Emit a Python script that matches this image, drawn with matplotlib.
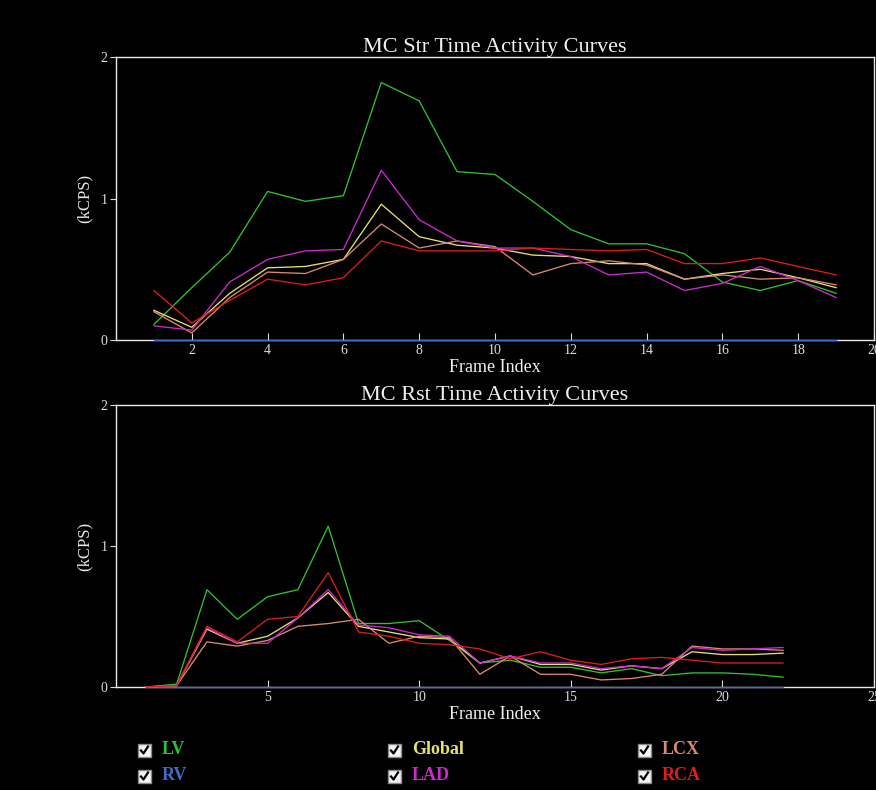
import matplotlib
matplotlib.use("Agg")
import matplotlib.pyplot as plt
from matplotlib.patches import Rectangle
from matplotlib.lines import Line2D

# ---------------- data ----------------
str_frames = list(range(1, 20))
str_LV = [0.11, 0.37, 0.62, 1.05, 0.98, 1.02, 1.82, 1.69, 1.19, 1.17, 0.98, 0.78, 0.68, 0.68, 0.61, 0.41, 0.35, 0.42, 0.33]
str_RV = [0.0] * 19
str_Global = [0.21, 0.09, 0.33, 0.51, 0.52, 0.57, 0.96, 0.73, 0.67, 0.65, 0.60, 0.59, 0.54, 0.54, 0.43, 0.47, 0.50, 0.44, 0.37]
str_LAD = [0.10, 0.07, 0.41, 0.57, 0.63, 0.64, 1.20, 0.85, 0.70, 0.65, 0.65, 0.59, 0.46, 0.48, 0.35, 0.40, 0.52, 0.42, 0.30]
str_LCX = [0.20, 0.05, 0.30, 0.48, 0.47, 0.57, 0.82, 0.65, 0.70, 0.66, 0.46, 0.54, 0.56, 0.53, 0.43, 0.46, 0.43, 0.44, 0.39]
str_RCA = [0.35, 0.12, 0.28, 0.43, 0.39, 0.44, 0.70, 0.63, 0.63, 0.63, 0.65, 0.64, 0.63, 0.64, 0.54, 0.54, 0.58, 0.52, 0.46]

rst_frames = list(range(1, 23))
rst_LV = [0.0, 0.02, 0.69, 0.48, 0.64, 0.69, 1.14, 0.45, 0.45, 0.47, 0.33, 0.17, 0.19, 0.14, 0.14, 0.10, 0.13, 0.08, 0.10, 0.10, 0.09, 0.07]
rst_RV = [0.0] * 22
rst_Global = [0.0, 0.01, 0.41, 0.31, 0.36, 0.49, 0.67, 0.43, 0.39, 0.35, 0.34, 0.17, 0.22, 0.16, 0.16, 0.12, 0.15, 0.13, 0.25, 0.23, 0.23, 0.24]
rst_LAD = [0.0, 0.01, 0.42, 0.31, 0.31, 0.49, 0.69, 0.44, 0.42, 0.37, 0.36, 0.17, 0.22, 0.17, 0.17, 0.13, 0.15, 0.13, 0.28, 0.26, 0.27, 0.28]
rst_LCX = [0.0, 0.01, 0.32, 0.29, 0.33, 0.43, 0.45, 0.48, 0.31, 0.36, 0.35, 0.09, 0.22, 0.09, 0.09, 0.05, 0.06, 0.09, 0.29, 0.27, 0.27, 0.26]
rst_RCA = [0.0, 0.01, 0.43, 0.32, 0.48, 0.50, 0.81, 0.39, 0.36, 0.31, 0.30, 0.27, 0.20, 0.25, 0.19, 0.16, 0.20, 0.21, 0.19, 0.17, 0.17, 0.17]

series_names = ["LV", "RV", "Global", "LAD", "LCX", "RCA"]
colors = {"LV": "#30c030", "RV": "#3c70c8", "Global": "#e6e070",
          "LAD": "#d028d0", "LCX": "#d88a70", "RCA": "#e01c1c"}

str_ticks = [2, 4, 6, 8, 10, 12, 14, 16, 18, 20]
rst_ticks = [5, 10, 15, 20, 25]
y_ticks = [0, 1, 2]

plt.rcParams['font.family'] = ['Liberation Serif', 'DejaVu Serif']

fig = plt.figure(figsize=(8.76, 7.90), dpi=100, facecolor="black")

def style_axes(ax, title, xlim, xticks):
    ax.set_facecolor("black")
    for s in ax.spines.values():
        s.set_color("#e8e8e8")
        s.set_linewidth(1.0)
    ax.set_xlim(*xlim)
    ax.set_ylim(0, 2)
    ax.set_xticks(xticks)
    ax.set_yticks(y_ticks)
    ax.tick_params(axis="x", direction="in", length=5, colors="#dcdcdc",
                   labelsize=10, pad=3)
    ax.tick_params(axis="y", direction="out", length=4, colors="#dcdcdc",
                   labelsize=10, pad=2)
    ax.set_title(title, color="#f0f0f0", fontsize=16, pad=3)
    ax.set_xlabel("Frame Index", color="#f0f0f0", fontsize=13, labelpad=1)
    ax.set_ylabel("(kCPS)", color="#e8e8e8", fontsize=12, labelpad=6)

def draw(ax, frames, data):
    order = ["RV", "LV", "Global", "LCX", "LAD", "RCA"]
    for name in order:
        ax.plot(frames, data[name], color=colors[name], lw=0.95,
                clip_on=False, zorder=3)

ax1 = fig.add_axes([0.1324, 0.5696, 0.8653, 0.3582])
style_axes(ax1, "MC Str Time Activity Curves", (0, 20), str_ticks)
draw(ax1, str_frames, {"LV": str_LV, "RV": str_RV, "Global": str_Global,
                       "LAD": str_LAD, "LCX": str_LCX, "RCA": str_RCA})

ax2 = fig.add_axes([0.1324, 0.1304, 0.8653, 0.357])
style_axes(ax2, "MC Rst Time Activity Curves", (0, 25), rst_ticks)
draw(ax2, rst_frames, {"LV": rst_LV, "RV": rst_RV, "Global": rst_Global,
                       "LAD": rst_LAD, "LCX": rst_LCX, "RCA": rst_RCA})

# ---------------- legend with checkboxes ----------------
legend_layout = [["LV", "Global", "LCX"], ["RV", "LAD", "RCA"]]
col_x = [138, 388, 638]
row_y = [750, 776]
W, H = 876.0, 790.0
for r, row in enumerate(legend_layout):
    for c, name in enumerate(row):
        x0 = col_x[c]
        yc = row_y[r]
        box = Rectangle((x0 / W, 1 - (yc + 6.5) / H), 13 / W, 13 / H,
                        transform=fig.transFigure, facecolor="#f4f4f4",
                        edgecolor="#8a8a8a", lw=1.0)
        fig.patches.append(box)
        chk = Line2D([(x0 + 3) / W, (x0 + 5.5) / W, (x0 + 10) / W],
                     [1 - (yc + 0.5) / H, 1 - (yc + 3.5) / H, 1 - (yc - 3.5) / H],
                     transform=fig.transFigure, color="black", lw=1.6)
        fig.lines.append(chk)
        fig.text((x0 + 24) / W, 1 - yc / H, name, color=colors[name],
                 fontsize=13, fontweight="bold", va="center", ha="left")

fig.savefig("out.png", dpi=100, facecolor="black")
